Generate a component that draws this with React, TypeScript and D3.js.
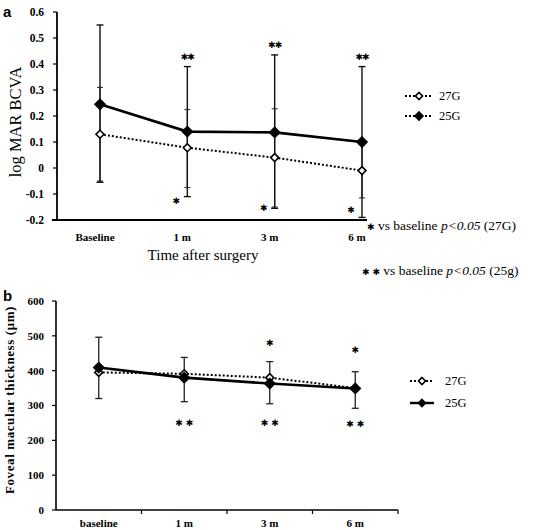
import React from "react";
import * as d3 from "d3";

const catsA = ["Baseline", "1 m", "3 m", "6 m"];
const a25 = [0.245, 0.14, 0.137, 0.1];
const a25Lo = [-0.055, -0.11, -0.155, -0.19];
const a25Hi = [0.55, 0.39, 0.435, 0.39];
const a27 = [0.13, 0.078, 0.04, -0.01];
const a27Lo = [-0.05, -0.075, -0.15, -0.115];
const a27Hi = [0.31, 0.225, 0.228, 0.09];
const aTicks = [0.6, 0.5, 0.4, 0.3, 0.2, 0.1, 0, -0.1, -0.2];
const aStarTop = ["", "✱✱", "✱✱", "✱✱"];
const aStarBottomY = [null, -0.128, -0.155, -0.162];

const catsB = ["baseline", "1 m", "3 m", "6 m"];
const b27 = [395, 391, 380, 350];
const b25 = [409, 380, 363, 349];
const bLo = [320, 311, 305, 292];
const bHi = [496, 438, 426, 397];
const bTicks = [0, 100, 200, 300, 400, 500, 600];
const bStarTopY = [null, null, 479, 459];
const bStarBottomY = [null, 250, 250, 248];

const serif = "'Liberation Serif', 'Times New Roman', serif";
const star = "'DejaVu Sans', sans-serif";

function Diamond({ cx, cy, r, filled }: { cx: number; cy: number; r: number; filled: boolean }) {
  const p = `M${cx},${cy - r}L${cx + r},${cy}L${cx},${cy + r}L${cx - r},${cy}Z`;
  return <path d={p} fill={filled ? "#000" : "#fff"} stroke="#000" strokeWidth={1.6} />;
}

function ErrBar({ x, y1, y2, w, sw, color }: any) {
  return (
    <g stroke={color} strokeWidth={sw}>
      <line x1={x} x2={x} y1={y1} y2={y2} />
      <line x1={x - w} x2={x + w} y1={y1} y2={y1} />
      <line x1={x - w} x2={x + w} y1={y2} y2={y2} />
    </g>
  );
}

export default function App() {
  // Panel a
  const yA = d3.scaleLinear().domain([-0.2, 0.6]).range([220, 12]);
  const xALab = d3.scalePoint<string>().domain(catsA).range([95, 357]);
  const xA = (c: string) => (xALab(c) as number) + 5;
  const line = d3.line<[number, number]>();
  const l25 = line(catsA.map((c, i) => [xA(c), yA(a25[i])]));
  const l27 = line(catsA.map((c, i) => [xA(c), yA(a27[i])]));

  // Panel b
  const yB = d3.scaleLinear().domain([0, 600]).range([510, 301]);
  const xBb = d3.scaleBand<string>().domain(catsB).range([56, 398]).padding(0);
  const xB = (c: string) => (xBb(c) as number) + xBb.bandwidth() / 2;
  const lb25 = line(catsB.map((c, i) => [xB(c), yB(b25[i])]));
  const lb27 = line(catsB.map((c, i) => [xB(c), yB(b27[i])]));

  return (
    <svg width={556} height={530} style={{ position: "absolute", left: 0, top: 0, background: "#fff" }}>
      {/* ===== Panel a ===== */}
      <text x={3} y={17} fontFamily="'Liberation Sans', Arial, sans-serif" fontWeight="bold" fontSize={15}>a</text>
      <line x1={57} x2={57} y1={yA(0.6)} y2={yA(-0.2)} stroke="#000" strokeWidth={1.8} />
      <line x1={52} x2={367} y1={yA(-0.2)} y2={yA(-0.2)} stroke="#000" strokeWidth={1.8} />
      {aTicks.map((t) => (
        <g key={t}>
          <line x1={53} x2={57} y1={yA(t)} y2={yA(t)} stroke="#000" strokeWidth={1.2} />
          <text x={44} y={yA(t)} dy="0.35em" textAnchor="end" fontFamily={serif} fontWeight="bold" fontSize={11.5}>
            {t}
          </text>
        </g>
      ))}
      {catsA.map((c) => (
        <text key={c} x={xALab(c)} y={241} textAnchor="middle" fontFamily={serif} fontWeight="bold" fontSize={11}>
          {c}
        </text>
      ))}
      <text x={203} y={260} textAnchor="middle" fontFamily={serif} fontSize={15}>Time after surgery</text>
      <text transform={`translate(21,122) rotate(-90)`} textAnchor="middle" fontFamily={serif} fontSize={16.5}>log MAR BCVA</text>

      {catsA.map((c, i) => (
        <ErrBar key={"e27" + c} x={xA(c)} y1={yA(a27Lo[i])} y2={yA(a27Hi[i])} w={3} sw={1.2} color="#444" />
      ))}
      {catsA.map((c, i) => (
        <ErrBar key={"e25" + c} x={xA(c)} y1={yA(a25Lo[i])} y2={yA(a25Hi[i])} w={3.5} sw={1.4} color="#111" />
      ))}
      <path d={l27 || ""} fill="none" stroke="#000" strokeWidth={2} strokeDasharray="2,2" />
      <path d={l25 || ""} fill="none" stroke="#000" strokeWidth={2.6} />
      {catsA.map((c, i) => (
        <Diamond key={"d27" + c} cx={xA(c)} cy={yA(a27[i])} r={4} filled={false} />
      ))}
      {catsA.map((c, i) => (
        <Diamond key={"d25" + c} cx={xA(c)} cy={yA(a25[i])} r={5} filled={true} />
      ))}
      {catsA.map((c, i) =>
        aStarTop[i] ? (
          <text key={"st" + c} x={xA(c)} y={yA(a25Hi[i]) - 10} dy="0.35em" textAnchor="middle" fontFamily={star} fontSize={9} letterSpacing={-1}>
            {aStarTop[i]}
          </text>
        ) : null
      )}
      {catsA.map((c, i) =>
        aStarBottomY[i] != null ? (
          <text key={"sb" + c} x={xA(c) - 11} y={yA(aStarBottomY[i] as number)} dy="0.35em" textAnchor="middle" fontFamily={star} fontSize={9}>
            ✱
          </text>
        ) : null
      )}

      {/* legend a */}
      <g>
        <line x1={405} x2={433} y1={96} y2={96} stroke="#000" strokeWidth={2} strokeDasharray="2,2" />
        <Diamond cx={419} cy={96} r={3.5} filled={false} />
        <text x={439} y={96} dy="0.35em" fontFamily={serif} fontSize={12.5}>27G</text>
        <line x1={405} x2={433} y1={116} y2={116} stroke="#000" strokeWidth={2} strokeDasharray="2,2" />
        <Diamond cx={419} cy={116} r={4} filled={true} />
        <text x={439} y={116} dy="0.35em" fontFamily={serif} fontSize={12.5}>25G</text>
      </g>

      {/* significance notes */}
      <g fontFamily={serif} fontSize={13.5}>
        <text x={367} y={225} dy="0.35em">
          <tspan fontFamily={star} fontSize={9}>✱</tspan>
          <tspan> vs baseline </tspan>
          <tspan fontStyle="italic">p&lt;0.05</tspan>
          <tspan>{"  (27G)"}</tspan>
        </text>
        <text x={362} y={270} dy="0.35em">
          <tspan fontFamily={star} fontSize={9}>✱ ✱</tspan>
          <tspan> vs baseline </tspan>
          <tspan fontStyle="italic">p&lt;0.05</tspan>
          <tspan>{"  (25g)"}</tspan>
        </text>
      </g>

      {/* ===== Panel b ===== */}
      <text x={3} y={301} fontFamily="'Liberation Sans', Arial, sans-serif" fontWeight="bold" fontSize={15}>b</text>
      <line x1={56} x2={56} y1={yB(600)} y2={yB(0)} stroke="#000" strokeWidth={1.6} />
      <line x1={56} x2={398} y1={yB(0)} y2={yB(0)} stroke="#000" strokeWidth={1.6} />
      {bTicks.map((t) => (
        <g key={t}>
          <line x1={52} x2={56} y1={yB(t)} y2={yB(t)} stroke="#000" strokeWidth={1.2} />
          <text x={44} y={yB(t)} dy="0.35em" textAnchor="end" fontFamily={serif} fontWeight="bold" fontSize={11}>
            {t}
          </text>
        </g>
      ))}
      {catsB.map((c) => (
        <line key={"tb" + c} x1={(xBb(c) as number) + xBb.bandwidth()} x2={(xBb(c) as number) + xBb.bandwidth()} y1={yB(0)} y2={yB(0) + 4} stroke="#000" strokeWidth={1.2} />
      ))}
      {catsB.map((c) => (
        <text key={"lb" + c} x={xB(c)} y={527} textAnchor="middle" fontFamily={serif} fontWeight="bold" fontSize={11}>
          {c}
        </text>
      ))}
      <text transform={`translate(14,400) rotate(-90)`} textAnchor="middle" fontFamily={serif} fontWeight="bold" fontSize={13} letterSpacing={0.6}>
        Foveal  macular  thickness  (μm)
      </text>

      {catsB.map((c, i) => (
        <ErrBar key={"eb" + c} x={xB(c)} y1={yB(bLo[i])} y2={yB(bHi[i])} w={3.5} sw={1.3} color="#222" />
      ))}
      <path d={lb27 || ""} fill="none" stroke="#000" strokeWidth={2} strokeDasharray="2,2" />
      <path d={lb25 || ""} fill="none" stroke="#000" strokeWidth={2.6} />
      {catsB.map((c, i) => (
        <Diamond key={"db27" + c} cx={xB(c)} cy={yB(b27[i])} r={4} filled={false} />
      ))}
      {catsB.map((c, i) => (
        <Diamond key={"db25" + c} cx={xB(c)} cy={yB(b25[i])} r={5} filled={true} />
      ))}
      {catsB.map((c, i) =>
        bStarTopY[i] != null ? (
          <text key={"bst" + c} x={xB(c)} y={yB(bStarTopY[i] as number)} dy="0.35em" textAnchor="middle" fontFamily={star} fontSize={9}>
            ✱
          </text>
        ) : null
      )}
      {catsB.map((c, i) =>
        bStarBottomY[i] != null ? (
          <text key={"bsb" + c} x={xB(c)} y={yB(bStarBottomY[i] as number)} dy="0.35em" textAnchor="middle" fontFamily={star} fontSize={9}>
            ✱ ✱
          </text>
        ) : null
      )}

      {/* legend b */}
      <g>
        <line x1={410} x2={434} y1={381} y2={381} stroke="#000" strokeWidth={2} strokeDasharray="2,2" />
        <Diamond cx={422} cy={381} r={3.5} filled={false} />
        <text x={445} y={381} dy="0.35em" fontFamily={serif} fontSize={12.5}>27G</text>
        <line x1={410} x2={434} y1={403} y2={403} stroke="#000" strokeWidth={2.4} />
        <Diamond cx={422} cy={403} r={3.5} filled={true} />
        <text x={445} y={403} dy="0.35em" fontFamily={serif} fontSize={12.5}>25G</text>
      </g>
    </svg>
  );
}
